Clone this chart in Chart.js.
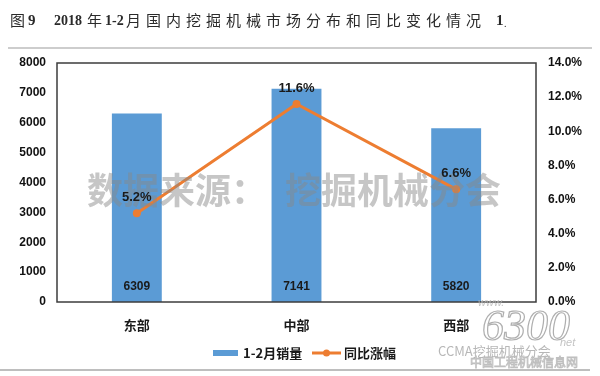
<!DOCTYPE html>
<html>
<head>
<meta charset="utf-8">
<script src="https://cdn.jsdelivr.net/npm/chart.js@4.4.1/dist/chart.umd.min.js"></script>
<style>
html,body{margin:0;padding:0;background:#fff;}
#wrap{width:600px;height:376px;position:relative;}
canvas{display:block;}
</style>
</head>
<body>
<div id="wrap"><canvas id="c" width="600" height="376"></canvas></div>
<script>
const categories = ['东部', '中部', '西部'];
const salesValues = [6309, 7141, 5820];
const growthValues = [5.2, 11.6, 6.6];
const leftTicks = [0, 1000, 2000, 3000, 4000, 5000, 6000, 7000, 8000];
const rightTicks = [0, 2, 4, 6, 8, 10, 12, 14];
const seriesNames = ['1-2月销量', '同比涨幅'];
const titleText = '图 9   2018 年 1-2 月国内挖掘机械市场分布和同比变化情况 1.';
const watermarkText = '数据来源：　挖掘机械分会';

const BLUE = '#5B9BD5';
const ORANGE = '#ED7D31';
const CJK = '"Noto Sans CJK SC", "Liberation Sans", sans-serif';
const SANS = '"Liberation Sans", Arial, sans-serif';
const SERIF = '"Liberation Serif", "Times New Roman", serif';

const decor = {
  id: 'decor',
  afterDatasetsDraw(chart) {
    const ctx = chart.ctx;
    const ca = chart.chartArea;
    // watermark
    ctx.save();
    ctx.font = 'bold 36px ' + CJK;
    ctx.fillStyle = 'rgba(135,135,135,0.48)';
    ctx.textAlign = 'center';
    ctx.textBaseline = 'middle';
    ctx.fillText(watermarkText, 294, 190);
    ctx.restore();

    // bar value labels
    const barMeta = chart.getDatasetMeta(0);
    ctx.save();
    ctx.font = 'bold 12px ' + SANS;
    ctx.fillStyle = '#1a1a1a';
    ctx.textAlign = 'center';
    ctx.textBaseline = 'middle';
    barMeta.data.forEach((el, i) => {
      ctx.fillText(String(salesValues[i]), el.x, ca.bottom - 15);
    });
    // line labels
    const lineMeta = chart.getDatasetMeta(1);
    ctx.font = 'bold 13px ' + SANS;
    lineMeta.data.forEach((el, i) => {
      ctx.fillText(growthValues[i].toFixed(1) + '%', el.x, el.y - 16);
    });
    ctx.restore();
  },
  afterDraw(chart) {
    const ctx = chart.ctx;
    const ca = chart.chartArea;
    ctx.save();
    // frame
    ctx.strokeStyle = '#3c3c3c';
    ctx.lineWidth = 1.5;
    ctx.strokeRect(ca.left, ca.top, ca.right - ca.left, ca.bottom - ca.top);

    // rules
    ctx.strokeStyle = '#bdbdbd';
    ctx.lineWidth = 1.5;
    ctx.beginPath(); ctx.moveTo(8, 48); ctx.lineTo(592, 48); ctx.stroke();
    ctx.strokeStyle = '#a8a8a8';
    ctx.beginPath(); ctx.moveTo(0, 370); ctx.lineTo(590, 370); ctx.stroke();

    // title
    ctx.fillStyle = '#2a2a2a';
    ctx.textBaseline = 'middle';
    ctx.textAlign = 'left';
    const ty = 20;
    ctx.font = '15px ' + CJK;
    ctx.fillText('图', 10, ty);
    ctx.font = 'bold 15px ' + SERIF;
    ctx.fillText('9', 28, ty + 1);
    ctx.font = 'bold 14px ' + SERIF;
    ctx.fillText('2018', 54, ty + 1);
    ctx.font = '15px ' + CJK;
    ctx.fillText('年', 87, ty);
    ctx.font = 'bold 14px ' + SERIF;
    ctx.fillText('1-2', 105, ty + 1);
    ctx.font = '15px ' + CJK;
    const zh = '月国内挖掘机械市场分布和同比变化情况';
    for (let i = 0; i < zh.length; i++) {
      ctx.fillText(zh[i], 126 + i * 20, ty);
    }
    ctx.font = 'bold 15px ' + SERIF;
    ctx.fillText('1', 496, ty + 1);
    ctx.font = '10px ' + SERIF;
    ctx.fillText('.', 504, ty + 4);

    // legend
    const ly = 353;
    ctx.fillStyle = BLUE;
    ctx.fillRect(213, ly - 3, 25, 6);
    ctx.fillStyle = '#1a1a1a';
    ctx.font = 'bold 13px ' + CJK;
    ctx.fillText(seriesNames[0], 243, ly);
    ctx.strokeStyle = ORANGE;
    ctx.lineWidth = 3;
    ctx.beginPath(); ctx.moveTo(312, ly); ctx.lineTo(341, ly); ctx.stroke();
    ctx.fillStyle = ORANGE;
    ctx.beginPath(); ctx.arc(326.5, ly, 3.5, 0, Math.PI * 2); ctx.fill();
    ctx.fillStyle = '#1a1a1a';
    ctx.fillText(seriesNames[1], 344, ly);

    // bottom-right site watermark
    ctx.font = 'italic 44px ' + SERIF;
    ctx.textAlign = 'left';
    ctx.fillStyle = 'rgba(255,255,255,0.9)';
    ctx.strokeStyle = 'rgba(160,160,160,0.85)';
    ctx.lineWidth = 1.2;
    ctx.fillText('6300', 482, 328);
    ctx.strokeText('6300', 482, 328);
    ctx.font = 'italic 11px ' + SANS;
    ctx.fillStyle = 'rgba(185,185,185,0.85)';
    ctx.fillText('www.', 478, 303);
    ctx.fillText('net', 560, 343);
    ctx.font = '13px ' + CJK;
    ctx.fillStyle = 'rgba(170,170,170,0.85)';
    ctx.fillText('CCMA挖掘机械分会', 438, 351);
    ctx.font = '12px ' + CJK;
    ctx.fillStyle = 'rgba(255,255,255,0.9)';
    ctx.strokeStyle = 'rgba(180,180,180,0.85)';
    ctx.lineWidth = 0.8;
    ctx.fillText('中国工程机械信息网', 470, 362);
    ctx.strokeText('中国工程机械信息网', 470, 362);
    ctx.restore();
  }
};

new Chart(document.getElementById('c'), {
  data: {
    labels: categories,
    datasets: [
      {
        type: 'bar',
        label: seriesNames[0],
        data: salesValues,
        backgroundColor: BLUE,
        borderWidth: 0,
        barPercentage: 0.3125,
        categoryPercentage: 1.0,
        yAxisID: 'y',
        order: 2
      },
      {
        type: 'line',
        label: seriesNames[1],
        data: growthValues,
        borderColor: ORANGE,
        backgroundColor: ORANGE,
        borderWidth: 3,
        pointRadius: 4,
        pointBackgroundColor: ORANGE,
        pointBorderWidth: 0,
        tension: 0,
        yAxisID: 'y1',
        order: 1
      }
    ]
  },
  options: {
    responsive: false,
    animation: false,
    layout: { padding: { top: 63, left: 0, right: 0, bottom: 0 } },
    plugins: {
      legend: { display: false },
      tooltip: { enabled: false },
      title: { display: false }
    },
    scales: {
      x: {
        grid: { display: false, drawTicks: false },
        border: { display: false },
        ticks: {
          padding: 15,
          color: '#1a1a1a',
          font: { family: CJK, size: 13, weight: 'bold' }
        },
        afterFit(s) { s.height = 74; }
      },
      y: {
        position: 'left',
        min: 0,
        max: 8000,
        afterBuildTicks(s) { s.ticks = leftTicks.map(v => ({ value: v })); },
        grid: { display: false, drawTicks: false },
        border: { display: false },
        ticks: {
          padding: 11,
          color: '#111',
          font: { family: SANS, size: 12, weight: 'bold' },
          callback: v => String(v)
        },
        afterFit(s) { s.width = 57; }
      },
      y1: {
        position: 'right',
        min: 0,
        max: 14,
        afterBuildTicks(s) { s.ticks = rightTicks.map(v => ({ value: v })); },
        grid: { display: false, drawTicks: false },
        border: { display: false },
        ticks: {
          padding: 12,
          color: '#111',
          font: { family: SANS, size: 12, weight: 'bold' },
          callback: v => Number(v).toFixed(1) + '%'
        },
        afterFit(s) { s.width = 64; }
      }
    }
  },
  plugins: [decor]
});
</script>
</body>
</html>
